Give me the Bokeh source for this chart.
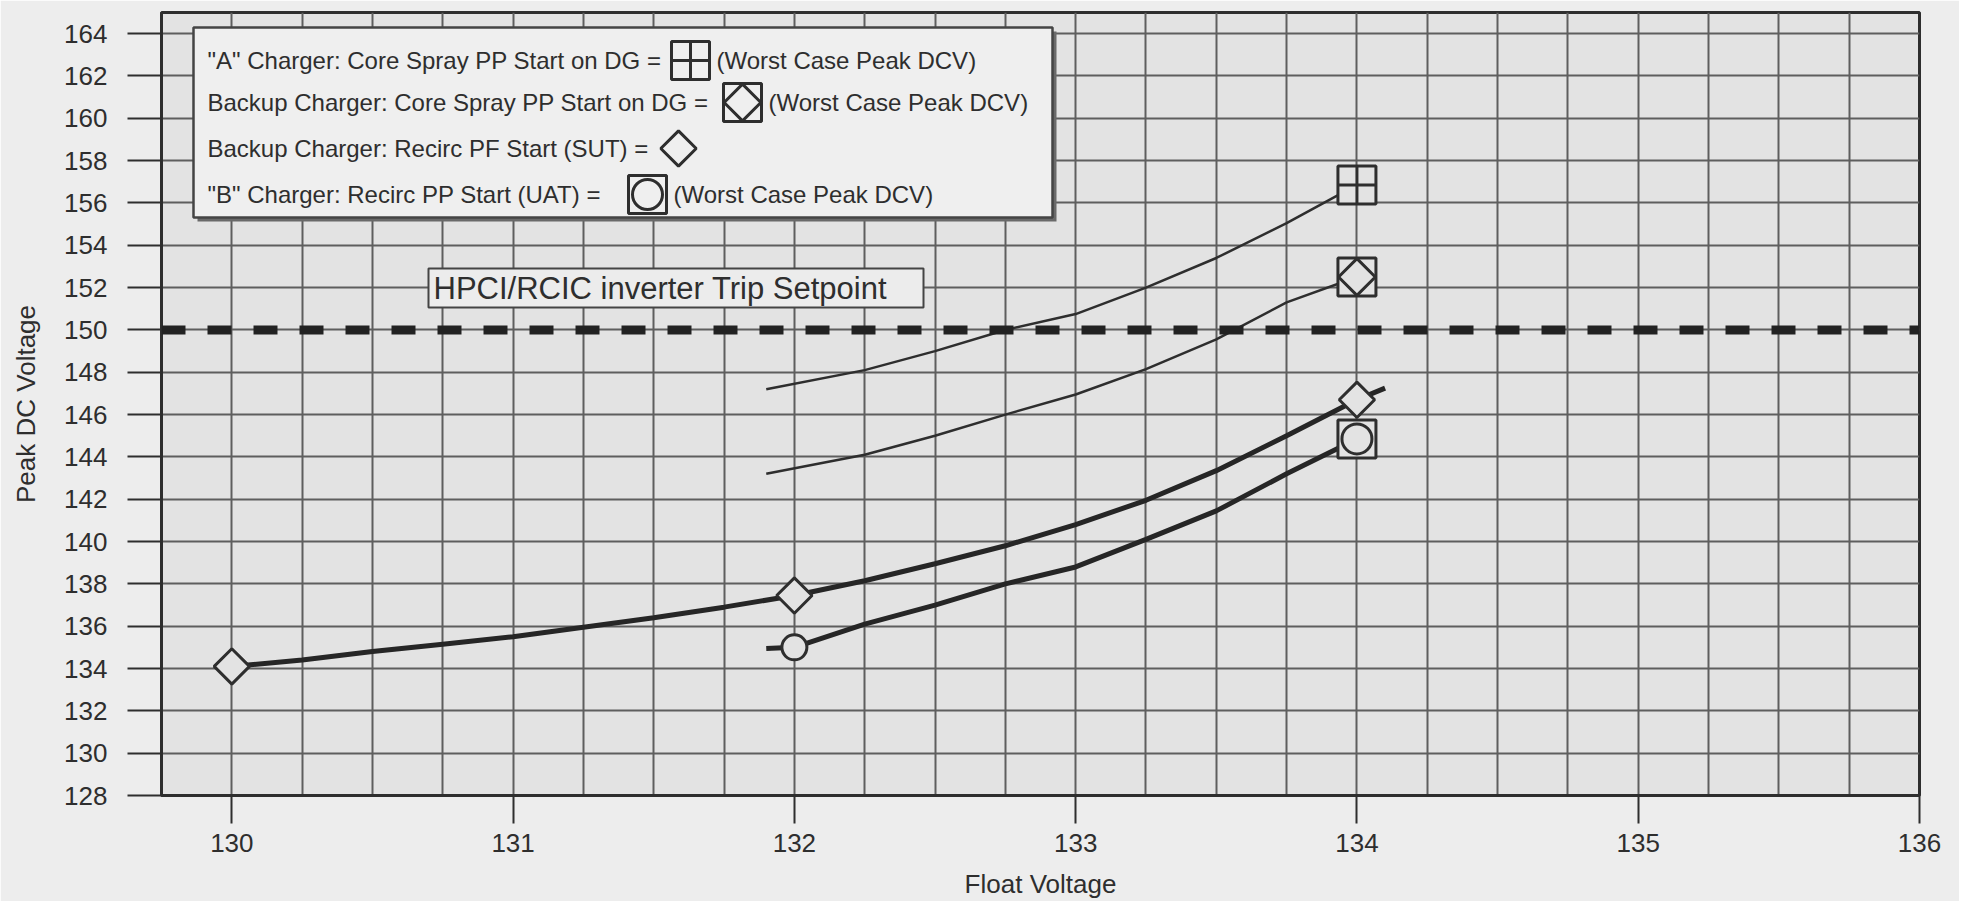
import math
from bokeh.plotting import figure
from bokeh.models import FixedTicker, Span, Range1d
from bokeh.core.properties import value
from bokeh.embed import file_html
from bokeh.resources import INLINE

# ---------------- data ----------------
x_ticks = [130, 131, 132, 133, 134, 135, 136]
y_ticks = [128, 130, 132, 134, 136, 138, 140, 142, 144, 146, 148, 150,
           152, 154, 156, 158, 160, 162, 164]
trip_setpoint = 150
trip_label = "HPCI/RCIC inverter Trip Setpoint"

# "A" Charger: Core Spray PP Start on DG (thin curve + worst case point)
a_cs_x = [131.9, 132.25, 132.5, 132.75, 133.0, 133.25, 133.5, 133.75, 134.0]
a_cs_y = [147.2, 148.1, 149.0, 150.0, 150.75, 152.0, 153.4, 155.05, 156.85]
a_cs_pt_x = [134.0]
a_cs_pt_y = [156.85]

# Backup Charger: Core Spray PP Start on DG (thin curve + worst case point)
bk_cs_x = [131.9, 132.25, 132.5, 132.75, 133.0, 133.25, 133.5, 133.75, 134.0]
bk_cs_y = [143.2, 144.1, 145.0, 146.0, 146.95, 148.15, 149.55, 151.3, 152.5]
bk_cs_pt_x = [134.0]
bk_cs_pt_y = [152.5]

# Backup Charger: Recirc PP Start (SUT) (thick curve + diamonds)
bk_rr_x = [130.0, 130.25, 130.5, 130.75, 131.0, 131.25, 131.5, 131.75, 132.0,
           132.25, 132.5, 132.75, 133.0, 133.25, 133.5, 133.75, 134.0, 134.1]
bk_rr_y = [134.1, 134.4, 134.8, 135.15, 135.5, 135.95, 136.4, 136.9, 137.45,
           138.15, 138.95, 139.8, 140.8, 141.95, 143.35, 145.0, 146.7, 147.25]
bk_rr_pt_x = [130.0, 132.0, 134.0]
bk_rr_pt_y = [134.1, 137.45, 146.7]

# "B" Charger: Recirc PP Start (UAT) (thick curve + circle, worst case point)
b_rr_x = [131.9, 132.0, 132.25, 132.5, 132.75, 133.0, 133.25, 133.5, 133.75, 134.0]
b_rr_y = [134.95, 135.0, 136.1, 137.0, 138.0, 138.8, 140.1, 141.45, 143.2, 144.85]
b_rr_pt_x = [132.0]
b_rr_pt_y = [135.0]
b_rr_worst_x = [134.0]
b_rr_worst_y = [144.85]

legend_texts = ['"A" Charger: Core Spray PP Start on DG =',
                'Backup Charger: Core Spray PP Start on DG =',
                'Backup Charger: Recirc PF Start (SUT) =',
                '"B" Charger: Recirc PP Start (UAT) =']
worst_text = "(Worst Case Peak DCV)"

# ---------------- layout ----------------
X0, X1 = 129.75, 136.0
Y0, Y1 = 128.0, 165.0
FL, FT, FW, FH = 161, 12, 1758, 783   # frame position on the page (px)

def xd(px):
    return X0 + (px - FL) * (X1 - X0) / FW

def yd(py):
    return Y1 - (py - FT) * (Y1 - Y0) / FH

FONT = "Liberation Sans"
INK = "#2e2e2e"
PLOT_BG = "#e3e3e3"
PAGE_BG = "#ededed"

p = figure(frame_width=FW, frame_height=FH,
           x_range=Range1d(X0, X1), y_range=Range1d(Y0, Y1),
           output_backend="svg", toolbar_location=None,
           min_border_left=FL, min_border_top=FT,
           min_border_right=40, min_border_bottom=104)

p.background_fill_color = PLOT_BG
p.border_fill_color = PAGE_BG
p.outline_line_color = INK
p.outline_line_width = 3

# grid
p.xgrid.ticker = FixedTicker(ticks=[X0 + 0.25 * i for i in range(26)])
p.ygrid.ticker = FixedTicker(ticks=y_ticks)
for g in (p.xgrid, p.ygrid):
    g.grid_line_color = "#5e5e5e"
    g.grid_line_width = 2

# axes
p.xaxis.ticker = FixedTicker(ticks=x_ticks)
p.yaxis.ticker = FixedTicker(ticks=y_ticks)
p.xaxis.axis_label = "Float Voltage"
p.yaxis.axis_label = "Peak DC Voltage"
for ax in (p.xaxis[0], p.yaxis[0]):
    ax.axis_line_color = INK
    ax.axis_line_width = 3
    ax.major_tick_line_color = INK
    ax.major_tick_line_width = 2
    ax.major_tick_in = 0
    ax.minor_tick_line_color = None
    ax.major_label_text_font = FONT
    ax.major_label_text_font_size = "26px"
    ax.major_label_text_color = INK
    ax.axis_label_text_font = FONT
    ax.axis_label_text_font_size = "26px"
    ax.axis_label_text_font_style = "normal"
    ax.axis_label_text_color = INK
p.xaxis.major_tick_out = 28
p.xaxis.major_label_standoff = 10
p.xaxis.axis_label_standoff = 14
p.yaxis.major_tick_out = 34
p.yaxis.major_label_standoff = 20
p.yaxis.axis_label_standoff = 20

# trip setpoint
p.add_layout(Span(location=trip_setpoint, dimension="width", line_color="#222222",
                  line_width=9, line_dash="24 22"))
p.quad(left=xd(428), right=xd(923), top=yd(268), bottom=yd(307),
       fill_color="#ececec", line_color="#444444", line_width=2)
p.text(x=[xd(433)], y=[yd(288)], text=[trip_label], text_font=value(FONT),
       text_font_size=value("31px"), text_color=INK, text_baseline="middle")

# curves
p.line(a_cs_x, a_cs_y, line_color=INK, line_width=2.5)
p.line(bk_cs_x, bk_cs_y, line_color=INK, line_width=2.5)
p.line(bk_rr_x, bk_rr_y, line_color="#262626", line_width=5)
p.line(b_rr_x, b_rr_y, line_color="#262626", line_width=5)

DIAG = math.pi / 4

def sq_cross(x, y, fill=PLOT_BG):
    p.scatter(x, y, marker="square_cross", size=38, line_color=INK, line_width=3, fill_color=fill)

def sq_diamond(x, y, fill=PLOT_BG):
    p.scatter(x, y, marker="square", size=38, line_color=INK, line_width=3, fill_color=fill)
    p.scatter(x, y, marker="square", angle=DIAG, size=26, line_color=INK, line_width=3, fill_color=fill)

def diamond(x, y, fill=PLOT_BG):
    p.scatter(x, y, marker="square", angle=DIAG, size=25, line_color=INK, line_width=3, fill_color=fill)

def circle(x, y, fill=PLOT_BG):
    p.scatter(x, y, marker="circle", size=25, line_color=INK, line_width=3, fill_color=fill)

def sq_circle(x, y, fill=PLOT_BG):
    p.scatter(x, y, marker="square", size=38, line_color=INK, line_width=3, fill_color=fill)
    p.scatter(x, y, marker="circle", size=30, line_color=INK, line_width=3, fill_color=fill)

sq_cross(a_cs_pt_x, a_cs_pt_y)
sq_diamond(bk_cs_pt_x, bk_cs_pt_y)
diamond(bk_rr_pt_x, bk_rr_pt_y)
circle(b_rr_pt_x, b_rr_pt_y)
sq_circle(b_rr_worst_x, b_rr_worst_y)

# ---------------- legend box ----------------
LEG_BG = "#efefef"
p.quad(left=xd(197), right=xd(1056), top=yd(31), bottom=yd(221),
       fill_color="#6a6a6a", line_color=None)
p.quad(left=xd(193), right=xd(1052), top=yd(27), bottom=yd(217),
       fill_color=LEG_BG, line_color="#444444", line_width=2.5)

row_py = [60, 102, 148, 194]
mark_px = [690, 742, 678, 647]
p.text(x=[xd(207)] * 4, y=[yd(v) for v in row_py], text=legend_texts,
       text_font=value(FONT), text_font_size=value("24px"),
       text_color=INK, text_baseline="middle")
worst_rows = [0, 1, 3]
p.text(x=[xd(mark_px[i] + 26) for i in worst_rows],
       y=[yd(row_py[i]) for i in worst_rows],
       text=[worst_text] * 3, text_font=value(FONT), text_font_size=value("24px"),
       text_color=INK, text_baseline="middle")
sq_cross([xd(mark_px[0])], [yd(row_py[0])], LEG_BG)
sq_diamond([xd(mark_px[1])], [yd(row_py[1])], LEG_BG)
diamond([xd(mark_px[2])], [yd(row_py[2])], LEG_BG)
sq_circle([xd(mark_px[3])], [yd(row_py[3])], LEG_BG)

open("out.html", "w").write(file_html(p, INLINE))
